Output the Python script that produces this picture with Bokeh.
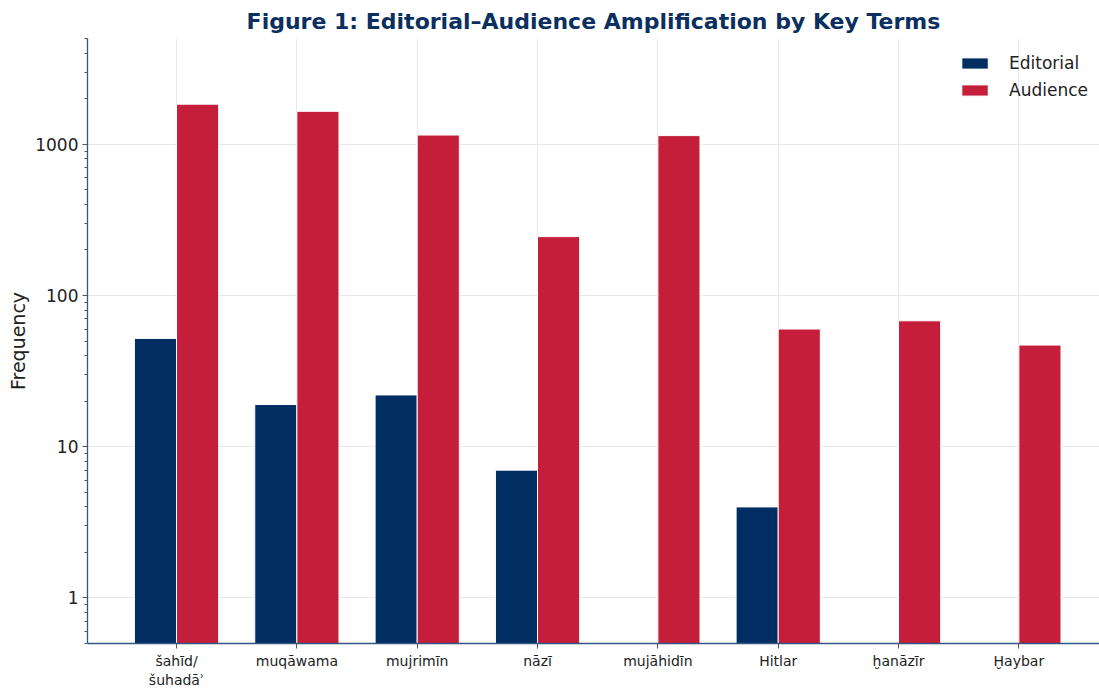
from bokeh.plotting import figure
from bokeh.models import Range1d, FixedTicker, LogTicker, NumeralTickFormatter
from bokeh.embed import file_html
from bokeh.resources import INLINE

terms = ["šahīd/\nšuhadāʾ", "muqāwama", "mujrimīn", "nāzī", "mujāhidīn", "Hitlar", "ḫanāzīr", "Ḫaybar"]
editorial = [52, 19, 22, 7, 0, 4, 0, 0]
audience = [1840, 1650, 1150, 245, 1140, 60, 68, 47]

NAVY = "#002d62"
RED = "#c41e3a"
AXIS = "#34557f"

p = figure(width=1099, height=690, y_axis_type="log",
           x_range=Range1d(-0.74, 7.67), y_range=Range1d(0.5, 5000),
           output_backend="svg", toolbar_location=None,
           min_border_left=87, min_border_right=0, min_border_top=38, min_border_bottom=45)

p.title.text = "Figure 1: Editorial–Audience Amplification by Key Terms"
p.title.align = "center"
p.title.text_font = "DejaVu Sans"
p.title.text_font_style = "bold"
p.title.text_font_size = "22px"
p.title.text_color = "#0b2f5e"
p.title.offset = 0
p.title.standoff = 9

w = 0.35
xs_e = [i - w / 2 for i, v in enumerate(editorial) if v > 0]
top_e = [v for v in editorial if v > 0]
xs_a = [i + w / 2 for i, v in enumerate(audience) if v > 0]
top_a = [v for v in audience if v > 0]

p.vbar(x=xs_e, top=top_e, bottom=0.1, width=w, fill_color=NAVY, line_color="white",
       line_width=1, legend_label="Editorial")
p.vbar(x=xs_a, top=top_a, bottom=0.1, width=w, fill_color=RED, line_color="white",
       line_width=1, legend_label="Audience")

p.outline_line_color = None
p.xgrid.grid_line_color = "#e8e8e8"
p.ygrid.grid_line_color = "#e8e8e8"
p.xgrid.grid_line_width = 1
p.ygrid.grid_line_width = 1

p.xaxis.ticker = FixedTicker(ticks=list(range(len(terms))))
p.xaxis.major_label_overrides = {i: t for i, t in enumerate(terms)}
p.xaxis.major_label_text_font = "DejaVu Sans"
p.xaxis.major_label_text_font_size = "14px"
p.xaxis.major_label_text_color = "#222222"
p.xaxis.minor_tick_line_color = None

p.yaxis.ticker = LogTicker(desired_num_ticks=5, num_minor_ticks=10)
p.yaxis.formatter = NumeralTickFormatter(format="0")
p.yaxis.major_label_text_font = "DejaVu Sans"
p.yaxis.major_label_text_font_size = "17px"
p.yaxis.major_label_text_color = "#222222"
p.yaxis.axis_label = "Frequency"
p.yaxis.axis_label_text_font = "DejaVu Sans"
p.yaxis.axis_label_text_font_size = "19px"
p.yaxis.axis_label_text_font_style = "normal"
p.yaxis.axis_label_text_color = "#222222"
p.yaxis.axis_label_standoff = 3

for ax in (p.xaxis, p.yaxis):
    ax.axis_line_color = AXIS
    ax.axis_line_width = 1.3
    ax.major_tick_line_color = "#555555"
    ax.major_tick_out = 5
    ax.major_tick_in = 0
    ax.minor_tick_out = 3
    ax.minor_tick_in = 0
    ax.major_label_standoff = 4
p.yaxis.minor_tick_line_color = "#555555"

p.legend.location = "top_right"
p.legend.background_fill_alpha = 0
p.legend.border_line_alpha = 0
p.legend.label_text_font = "DejaVu Sans"
p.legend.label_text_font_size = "17px"
p.legend.label_text_color = "#222222"
p.legend.glyph_width = 33
p.legend.glyph_height = 14
p.legend.label_standoff = 18
p.legend.label_height = 27
p.legend.spacing = 0
p.legend.margin = 0
p.legend.padding = 11

open("out.html", "w").write(file_html(p, INLINE))
